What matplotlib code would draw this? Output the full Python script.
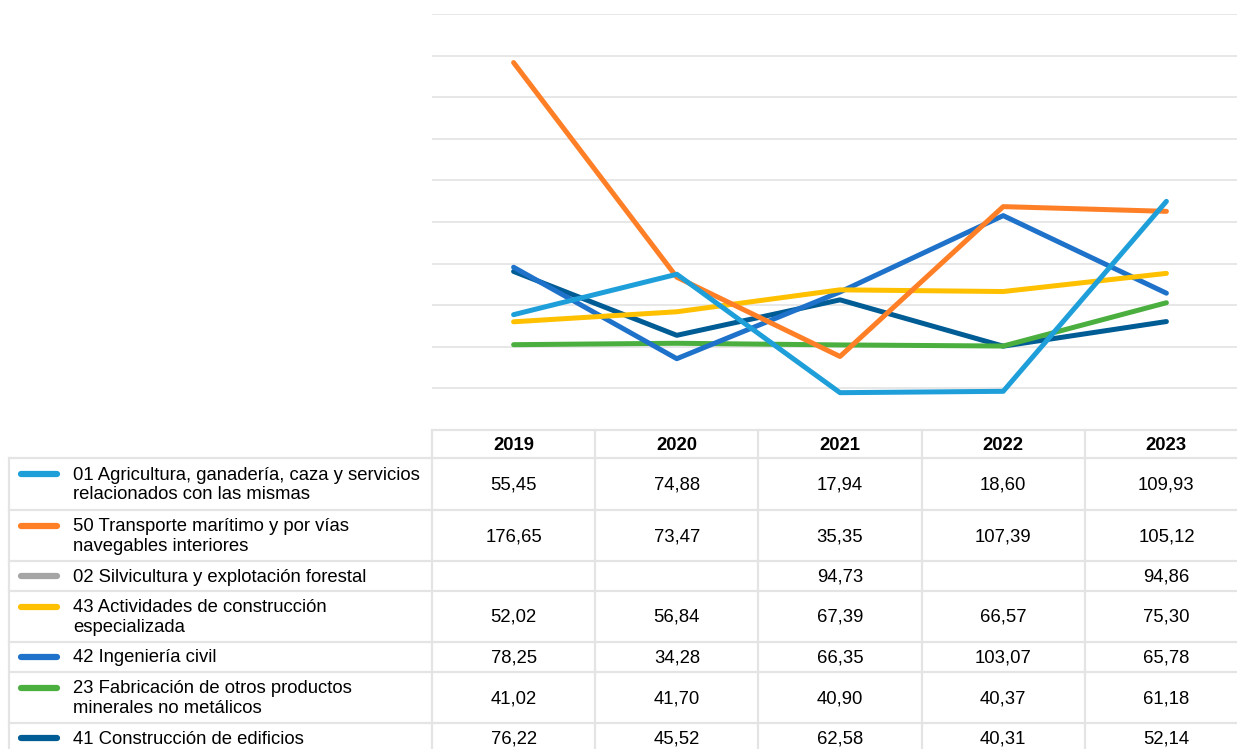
import numpy as np
import matplotlib.pyplot as plt

plt.rcParams["font.family"] = ["Liberation Sans", "DejaVu Sans"]

YEARS = ["2019", "2020", "2021", "2022", "2023"]
SERIES_NAMES = [
    "01 Agricultura, ganadería, caza y servicios\nrelacionados con las mismas",
    "50 Transporte marítimo y por vías\nnavegables interiores",
    "02 Silvicultura y explotación forestal",
    "43 Actividades de construcción\nespecializada",
    "42 Ingeniería civil",
    "23 Fabricación de otros productos\nminerales no metálicos",
    "41 Construcción de edificios",
]
nan = np.nan
agricultura = [55.45, 74.88, 17.94, 18.60, 109.93]
transporte = [176.65, 73.47, 35.35, 107.39, 105.12]
silvicultura = [nan, nan, 94.73, nan, 94.86]
actividades = [52.02, 56.84, 67.39, 66.57, 75.30]
ingenieria = [78.25, 34.28, 66.35, 103.07, 65.78]
fabricacion = [41.02, 41.70, 40.90, 40.37, 61.18]
construccion = [76.22, 45.52, 62.58, 40.31, 52.14]
VALUES = [agricultura, transporte, silvicultura, actividades,
          ingenieria, fabricacion, construccion]
COLORS = ["#1E9FD9", "#FF7F27", "#A5A5A5", "#FFC000",
          "#1F72C9", "#4AAF3E", "#005C94"]

W, H = 1237, 749
fig = plt.figure(figsize=(W / 100, H / 100), dpi=100)

# chart area in pixels
x0, col_w = 432, 163.2
top_px, zero_px = 14, 430
ax = fig.add_axes([x0 / W, 1 - zero_px / H, 5 * col_w / W, (zero_px - top_px) / H])
ax.set_xlim(-0.5, 4.5)
ax.set_ylim(0, 200)
ax.set_yticks(np.arange(20, 201, 20))
ax.grid(axis="y", color="#e3e3e3", linewidth=1.2)
ax.set_axisbelow(True)
ax.tick_params(left=False, bottom=False, labelleft=False, labelbottom=False)
for s in ax.spines.values():
    s.set_visible(False)
x = np.arange(len(YEARS))
# reverse order so the first series ends up on top
for vals, c in list(zip(VALUES, COLORS))[::-1]:
    ax.plot(x, vals, color=c, linewidth=3.6, solid_capstyle="round",
            solid_joinstyle="round", clip_on=False)

# table overlay in pixel coordinates
tab = fig.add_axes([0, 0, 1, 1])
tab.set_xlim(0, W)
tab.set_ylim(H, 0)
tab.axis("off")
line_c, lw = "#e4e4e4", 1.6
row_edges = [430, 458, 510, 561, 591, 642, 672, 723, 753]
right = x0 + 5 * col_w
fs = 13.3

# header
tab.plot([x0, right], [row_edges[0]] * 2, color=line_c, lw=lw)
for i, yr in enumerate(YEARS):
    tab.text(x0 + (i + 0.5) * col_w, (row_edges[0] + row_edges[1]) / 2 + 1, yr,
             ha="center", va="center", fontsize=fs, fontweight="bold")
for r in range(1, len(row_edges) - 1):
    tab.plot([9, right], [row_edges[r]] * 2, color=line_c, lw=lw)
# vertical lines
tab.plot([9, 9], [row_edges[1], H], color=line_c, lw=lw)
for i in range(6):
    tab.plot([x0 + i * col_w] * 2, [row_edges[0], H], color=line_c, lw=lw)

for r, (name, vals, c) in enumerate(zip(SERIES_NAMES, VALUES, COLORS)):
    yc = (row_edges[r + 1] + row_edges[r + 2]) / 2 + 1
    n = name.count("\n") + 1
    tab.text(73, yc, name, ha="left", va="center", fontsize=fs, linespacing=1.18)
    yl = yc - (n - 1) * 10 - 1
    tab.plot([21, 57], [yl, yl], color=c, lw=4.5, solid_capstyle="round")
    for i, v in enumerate(vals):
        if np.isnan(v):
            continue
        tab.text(x0 + (i + 0.5) * col_w, yc, f"{v:.2f}".replace(".", ","),
                 ha="center", va="center", fontsize=fs)

fig.savefig("out.png", dpi=100)
